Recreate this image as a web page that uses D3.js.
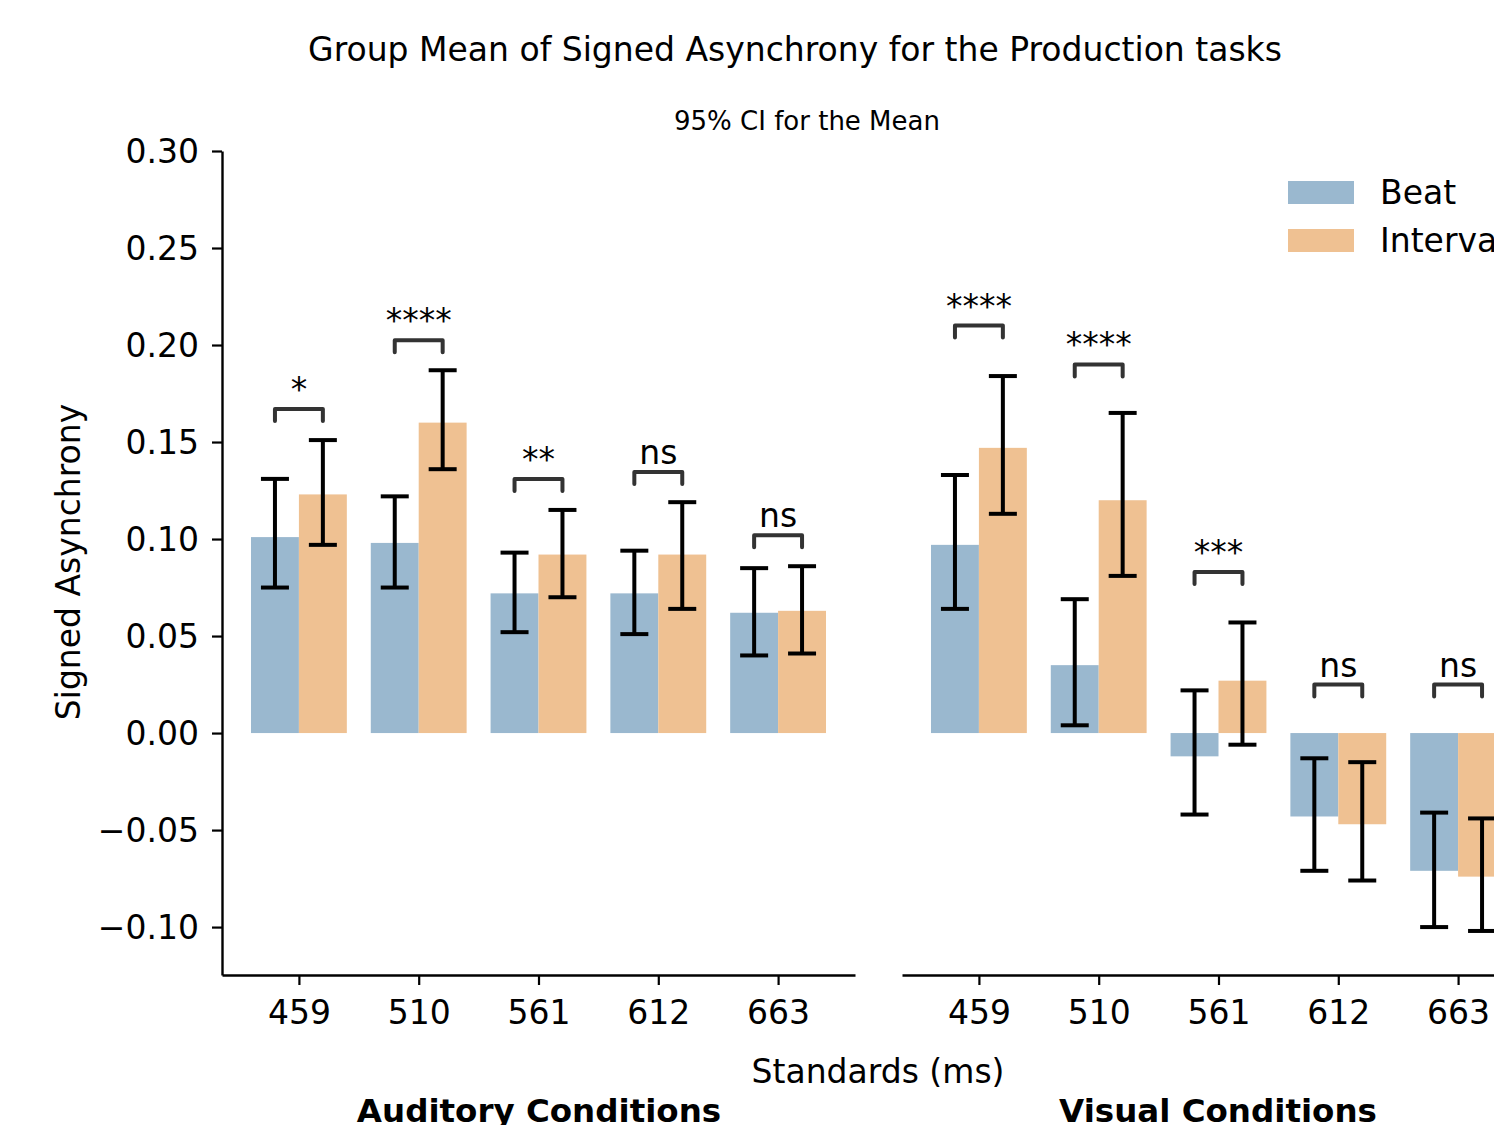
<!DOCTYPE html>
<html>
<head>
<meta charset="utf-8">
<script src="https://cdn.jsdelivr.net/npm/d3@7"></script>
<style>
  body { margin: 0; background: #fff; }
  text { font-family: "DejaVu Sans", sans-serif; fill: #000; }
</style>
</head>
<body>
<div id="chart-area"></div>
<script>
// data
let standards = ["459", "510", "561", "612", "663"];
let groups = ["Beat", "Interval"];

let auditoryBeat = [0.101, 0.098, 0.072, 0.072, 0.062];
let auditoryBeatCI = [[0.075, 0.131], [0.075, 0.122], [0.052, 0.093], [0.051, 0.094], [0.040, 0.085]];
let auditoryInterval = [0.123, 0.160, 0.092, 0.092, 0.063];
let auditoryIntervalCI = [[0.097, 0.151], [0.136, 0.187], [0.070, 0.115], [0.064, 0.119], [0.041, 0.086]];
let auditorySig = ["*", "****", "**", "ns", "ns"];
let auditorySigY = [0.167, 0.2025, 0.131, 0.1345, 0.102];

let visualBeat = [0.097, 0.035, -0.012, -0.043, -0.071];
let visualBeatCI = [[0.064, 0.133], [0.004, 0.069], [-0.042, 0.022], [-0.071, -0.013], [-0.100, -0.041]];
let visualInterval = [0.147, 0.120, 0.027, -0.047, -0.074];
let visualIntervalCI = [[0.113, 0.184], [0.081, 0.165], [-0.006, 0.057], [-0.076, -0.015], [-0.102, -0.044]];
let visualSig = ["****", "****", "***", "ns", "ns"];
let visualSigY = [0.210, 0.190, 0.083, 0.025, 0.025];

let yTicks = [-0.10, -0.05, 0.00, 0.05, 0.10, 0.15, 0.20, 0.25, 0.30];

let colors = {Beat: "#9ab8cf", Interval: "#efc192"};

var width = 1494,
    height = 1125;
let fs = 33;

let svg = d3.select("#chart-area").append("svg")
    .attr("width", width)
    .attr("height", height);

let axTop = 151, axBottom = 975, axW = 633;
let y = d3.scaleLinear().domain([-0.1247, 0.30]).range([axBottom, axTop]);

function panel(x0, beat, beatCI, intv, intvCI, sig, sigY, showY) {
    let g = svg.append("g").attr("transform", "translate(" + x0 + ",0)");
    let x = d3.scaleLinear().domain([-0.642, 4.642]).range([0, axW]);

    let rows = [];
    standards.forEach((s, i) => {
        rows.push({i: i, grp: "Beat", v: beat[i], ci: beatCI[i], off: -0.2});
        rows.push({i: i, grp: "Interval", v: intv[i], ci: intvCI[i], off: 0.2});
    });

    g.selectAll("rect.bar")
        .data(rows)
        .enter()
        .append("rect")
        .attr("class", "bar")
        .attr("x", d => x(d.i + d.off - 0.2))
        .attr("width", x(0.4) - x(0))
        .attr("y", d => y(Math.max(0, d.v)))
        .attr("height", d => Math.abs(y(d.v) - y(0)))
        .attr("fill", d => colors[d.grp]);

    // error bars
    let capW = 14;
    let eb = g.selectAll("g.err").data(rows).enter().append("g").attr("class", "err")
        .attr("stroke", "#000").attr("stroke-width", 4);
    eb.append("line")
        .attr("x1", d => x(d.i + d.off)).attr("x2", d => x(d.i + d.off))
        .attr("y1", d => y(d.ci[0])).attr("y2", d => y(d.ci[1]));
    eb.append("line")
        .attr("x1", d => x(d.i + d.off) - capW).attr("x2", d => x(d.i + d.off) + capW)
        .attr("y1", d => y(d.ci[0])).attr("y2", d => y(d.ci[0]));
    eb.append("line")
        .attr("x1", d => x(d.i + d.off) - capW).attr("x2", d => x(d.i + d.off) + capW)
        .attr("y1", d => y(d.ci[1])).attr("y2", d => y(d.ci[1]));

    // significance brackets
    let br = g.selectAll("g.sig").data(standards).enter().append("g").attr("class", "sig");
    br.append("path")
        .attr("d", (d, i) => {
            let x1 = x(i - 0.2), x2 = x(i + 0.2), yt = y(sigY[i]);
            return "M" + x1 + "," + (yt + 12) + "V" + yt + "H" + x2 + "V" + (yt + 12);
        })
        .attr("fill", "none")
        .attr("stroke", "#333")
        .attr("stroke-width", 4)
        .attr("stroke-linejoin", "round")
        .attr("stroke-linecap", "round");
    br.append("text")
        .attr("x", (d, i) => x(i))
        .attr("y", (d, i) => y(sigY[i]) - 8)
        .attr("text-anchor", "middle")
        .style("font-size", fs + "px")
        .text((d, i) => sig[i]);

    // x axis
    let xaxis = d3.axisBottom(x)
        .tickValues([0, 1, 2, 3, 4])
        .tickFormat(i => standards[i])
        .tickSize(10)
        .tickSizeOuter(0);
    let ax = g.append("g")
        .attr("transform", "translate(0," + axBottom + ")")
        .call(xaxis);
    ax.select(".domain").attr("stroke", "#000").attr("stroke-width", 2.4);
    ax.selectAll(".tick line").attr("stroke", "#000").attr("stroke-width", 2.2);
    ax.selectAll(".tick text").attr("dy", 0).attr("y", 49)
        .style("font-size", fs + "px").style("font-family", "DejaVu Sans");

    if (showY) {
        let yaxis = d3.axisLeft(y)
            .tickValues(yTicks)
            .tickFormat(v => (v < 0 ? "\u2212" : "") + Math.abs(v).toFixed(2))
            .tickSize(10)
            .tickSizeOuter(0);
        let ay = g.append("g").call(yaxis);
        ay.select(".domain").attr("stroke", "#000").attr("stroke-width", 2.4);
        ay.selectAll(".tick line").attr("stroke", "#000").attr("stroke-width", 2.2);
        ay.selectAll(".tick text").attr("x", -23).attr("dy", "0.36em")
            .style("font-size", fs + "px").style("font-family", "DejaVu Sans");
    }
}

panel(222, auditoryBeat, auditoryBeatCI, auditoryInterval, auditoryIntervalCI, auditorySig, auditorySigY, true);
panel(902, visualBeat, visualBeatCI, visualInterval, visualIntervalCI, visualSig, visualSigY, false);

// titles
svg.append("text")
    .attr("x", 795).attr("y", 61)
    .attr("text-anchor", "middle")
    .style("font-size", "33px")
    .text("Group Mean of Signed Asynchrony for the Production tasks");

svg.append("text")
    .attr("x", 807).attr("y", 130)
    .attr("text-anchor", "middle")
    .style("font-size", "26px")
    .text("95% CI for the Mean");

svg.append("text")
    .attr("transform", "translate(80," + 562 + ") rotate(-90)")
    .attr("text-anchor", "middle")
    .style("font-size", fs + "px")
    .text("Signed Asynchrony");

svg.append("text")
    .attr("x", 878).attr("y", 1083)
    .attr("text-anchor", "middle")
    .style("font-size", fs + "px")
    .text("Standards (ms)");

svg.append("text")
    .attr("x", 539).attr("y", 1122)
    .attr("text-anchor", "middle")
    .style("font-size", "32.5px")
    .style("font-weight", "bold")
    .text("Auditory Conditions");

svg.append("text")
    .attr("x", 1218).attr("y", 1122)
    .attr("text-anchor", "middle")
    .style("font-size", "32.5px")
    .style("font-weight", "bold")
    .text("Visual Conditions");

// legend
let legend = svg.selectAll("g.legend").data(groups).enter().append("g")
    .attr("class", "legend")
    .attr("transform", (d, i) => "translate(1288," + (181 + i * 48) + ")");
legend.append("rect")
    .attr("width", 66).attr("height", 23)
    .attr("fill", d => colors[d]);
legend.append("text")
    .attr("x", 92).attr("y", 23)
    .style("font-size", fs + "px")
    .text(d => d);
</script>
</body>
</html>
